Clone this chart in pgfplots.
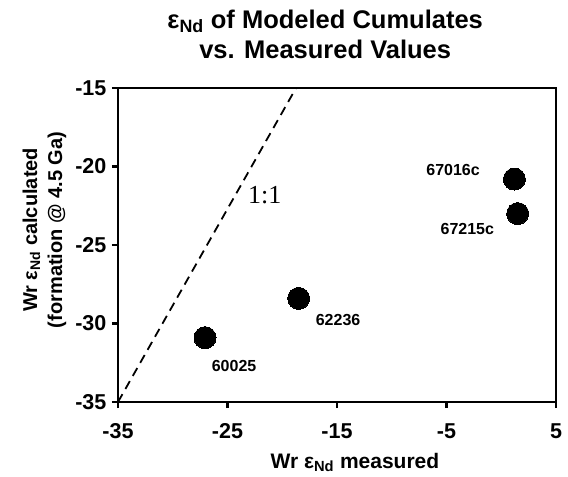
\documentclass[border=0pt]{standalone}
\usepackage{fontspec}
\setmainfont{Liberation Sans}
\newfontfamily\timesfont{Liberation Serif}
\usepackage{pgfplots}
\pgfplotsset{compat=1.18}

\begin{document}
\begin{tikzpicture}
\begin{axis}[
  name=ax,
  scale only axis,
  width=438pt, height=314pt,
  xmin=-35, xmax=5, ymin=-35, ymax=-15,
  xtick={-35,-25,-15,-5,5},
  ytick={-35,-30,-25,-20,-15},
  tick align=outside, tick pos=left,
  major tick length=6pt,
  every axis/.append style={line width=2.6pt},
  every tick/.style={black, line width=2.6pt},
  /pgf/number format/assume math mode=true,
  tick label style={font=\fontsize{21.5}{24}\selectfont\bfseries},
  xticklabel style={anchor=north, yshift=-11pt},
  yticklabel style={anchor=east, xshift=-1pt},
  xlabel={Wr ε\textsubscript{Nd} measured},
  xlabel style={font=\fontsize{21}{24}\selectfont\bfseries,
    at={(axis description cs:0.541,0)}, anchor=base, yshift=-66pt},
  ylabel={Wr ε\textsubscript{Nd} calculated\\(formation @ 4.5 Ga)},
  ylabel style={font=\fontsize{20}{25}\selectfont\bfseries, align=center,
    at={(axis description cs:-0.168,0.548)}, anchor=center},
  title={ε\textsubscript{Nd} of Modeled Cumulates\\vs. Measured Values},
  title style={font=\fontsize{25.5}{30}\selectfont\bfseries, align=center,
    at={(axis description cs:0.473,1)}, anchor=south, inner sep=0pt, yshift=22pt},
  clip=false,
]
\addplot[black, line width=1.8pt, dash pattern=on 9pt off 6pt]
  coordinates {(-35,-35) (-18.74,-15)};
\node[fill=white, inner xsep=2pt, inner ysep=8pt, font=\timesfont\fontsize{26}{26}\selectfont]
  at (axis cs:-21.6,-21.8) {1:1};
\addplot[only marks, mark=*, mark size=11pt, black, line width=0pt]
  coordinates {(-27.05,-30.9) (-18.5,-28.4) (1.2,-20.8) (1.5,-23.0)};
\begin{scope}[font=\fontsize{16}{18}\selectfont\bfseries]
\node at (axis cs:-24.4,-32.7) {60025};
\node at (axis cs:-14.9,-29.8) {62236};
\node at (axis cs:-4.4,-20.2) {67016c};
\node at (axis cs:-3.1,-24.0) {67215c};
\end{scope}
\end{axis}
\path ([shift={(-118pt,-74pt)}]ax.south west) rectangle ([shift={(12pt,88pt)}]ax.north east);
\end{tikzpicture}
\end{document}
